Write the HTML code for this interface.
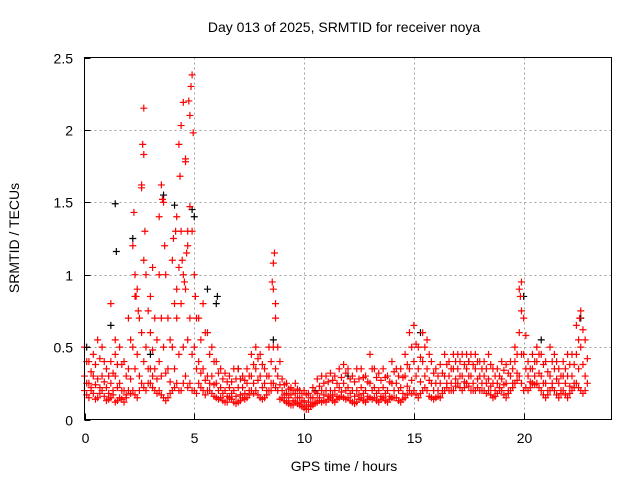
<!DOCTYPE html>
<html><head><meta charset="utf-8"><style>
body{margin:0;background:#fff;}
svg{display:block;font-family:"Liberation Sans",sans-serif;}
</style></head><body>
<svg id="chart" width="640" height="480" viewBox="0 0 640 480">
<text x="344" y="32" font-size="14" text-anchor="middle">Day 013 of 2025, SRMTID for receiver noya</text>
<g id="grid"></g>
<g id="marks"></g>
<rect x="84.5" y="57.5" width="527" height="362" fill="none" stroke="#000" stroke-width="1"/>
<g id="axes"></g>
<text x="344" y="471" font-size="14" text-anchor="middle">GPS time / hours</text>
<text transform="translate(19,238) rotate(-90)" font-size="14" text-anchor="middle">SRMTID / TECUs</text>
</svg>
<script>
const xTicks=[0,5,10,15,20];
const yTicks=[0,0.5,1,1.5,2,2.5];
const yTickLabels=["0","0.5","1","1.5","2","2.5"];
const redStart=0, redStep=0.2, red2Start=0.1;
const redLo=[.2,.15,.18,.15,.2,.13,.15,.12,.15,.12,.2,.2,.15,.25,.2,.25,.2,.2,.15,.15,.2,.25,.2,.3,.25,.2,.25,.2,.2,.18,.15,.15,.12,.15,.12,.12,.15,.15,.2,.2,.15,.15,.2,.25,.2,.15,.12,.1,.12,.1,.08,.07,.1,.12,.12,.12,.15,.12,.15,.15,.15,.12,.12,.15,.12,.15,.15,.12,.15,.12,.15,.15,.12,.15,.2,.2,.15,.2,.2,.15,.15,.15,.2,.2,.2,.25,.2,.25,.2,.2,.2,.2,.2,.15,.18,.2,.15,.2,.25,.3,.2,.2,.25,.25,.2,.15,.2,.2,.15,.2,.15,.2,.25,.2,.2];
const redMid=[.3,.25,.3,.28,.3,.22,.25,.3,.25,.2,.35,.5,.45,.6,.5,.35,.35,.4,.5,.35,.5,.7,.8,.9,.7,.5,.4,.35,.3,.3,.25,.22,.2,.22,.2,.22,.22,.25,.3,.35,.3,.25,.3,.5,.3,.2,.18,.17,.18,.15,.13,.12,.15,.18,.2,.2,.2,.2,.22,.25,.22,.2,.2,.22,.2,.25,.22,.2,.22,.2,.25,.25,.22,.3,.35,.4,.35,.4,.35,.25,.25,.25,.3,.3,.35,.35,.3,.35,.3,.35,.3,.3,.28,.25,.25,.28,.25,.3,.4,.6,.45,.3,.35,.4,.3,.25,.3,.35,.25,.3,.3,.3,.45,.5,.3];
const redHi=[.5,.4,.45,.55,.5,.35,.4,.45,.5,.4,.7,1.2,.9,1.6,1.0,.6,.7,1.0,1.5,.7,1.1,1.4,1.3,1.8,2.1,1.0,.7,.8,.6,.5,.4,.35,.32,.3,.35,.35,.3,.35,.45,.5,.45,.35,.5,.9,.5,.28,.25,.22,.25,.2,.2,.18,.22,.28,.3,.3,.32,.3,.35,.38,.35,.3,.35,.35,.3,.45,.35,.32,.35,.3,.4,.35,.35,.45,.6,.65,.5,.6,.55,.4,.35,.38,.45,.4,.45,.45,.45,.45,.45,.45,.4,.4,.45,.35,.35,.4,.38,.4,.5,.9,.7,.4,.45,.5,.45,.4,.5,.45,.35,.4,.45,.45,.65,.75,.55];
const red2Lo=[.17,.2,.14,.18,.16,.14,.17,.13,.14,.15,.18,.17,.2,.22,.25,.22,.18,.17,.13,.18,.22,.2,.25,.22,.2,.18,.22,.17,.2,.16,.14,.13,.12,.14,.11,.13,.14,.17,.18,.17,.14,.17,.2,.22,.14,.13,.11,.1,.11,.09,.07,.09,.11,.13,.13,.14,.13,.14,.16,.14,.13,.11,.14,.13,.14,.14,.13,.14,.13,.14,.15,.13,.14,.17,.18,.17,.18,.22,.16,.14,.16,.18,.22,.2,.23,.22,.22,.23,.2,.22,.2,.18,.17,.16,.2,.17,.18,.22,.27,.25,.22,.22,.24,.22,.17,.17,.22,.17,.18,.17,.18,.22,.22,.18];
const red2MidA=[.25,.22,.24,.22,.26,.18,.2,.22,.2,.17,.28,.35,.3,.4,.35,.3,.28,.3,.32,.26,.35,.45,.5,.55,.45,.35,.32,.27,.25,.24,.2,.18,.16,.18,.16,.17,.18,.2,.25,.27,.22,.2,.25,.35,.24,.17,.15,.13,.15,.12,.1,.1,.12,.15,.17,.16,.17,.16,.19,.2,.18,.16,.17,.18,.16,.2,.18,.16,.18,.16,.2,.2,.18,.23,.27,.3,.26,.3,.27,.2,.2,.2,.25,.25,.28,.3,.26,.3,.25,.28,.25,.25,.23,.2,.22,.24,.2,.25,.32,.45,.35,.26,.3,.32,.25,.2,.25,.28,.2,.25,.23,.25,.35,.38,.25];
const red2MidB=[.4,.33,.38,.42,.4,.3,.32,.38,.38,.3,.55,.85,.7,1.1,.75,.48,.55,.7,1.0,.55,.8,1.05,1.0,1.3,1.3,.7,.55,.6,.45,.4,.32,.28,.26,.26,.28,.28,.27,.3,.38,.42,.38,.3,.4,.7,.4,.24,.21,.2,.21,.18,.17,.15,.19,.23,.25,.26,.27,.25,.29,.32,.28,.26,.28,.29,.26,.35,.29,.27,.29,.26,.33,.3,.29,.38,.5,.52,.43,.5,.45,.32,.3,.32,.38,.35,.4,.4,.38,.4,.38,.4,.35,.35,.38,.3,.3,.34,.32,.35,.45,.75,.58,.35,.4,.45,.38,.33,.4,.4,.3,.35,.38,.38,.55,.62,.42];
const spikeT=[2.7,2.65,2.7,4.5,4.9,4.85,4.75,4.95,4.4,4.3,4.6,3.5,3.55,2.25,4.35,4.8,1.2,8.65,8.6,8.55,19.9,3.1,3.4,4.05,2.6,4.7,2.3,4.45,4.55,4.65,4.2,4.15,3.65,2.35,2.45,2.75,3.0,5.05,1.4,8.7,19.85,22.55];
const spikeV=[2.15,1.9,1.83,2.19,2.38,2.3,2.2,1.98,2.03,1.9,1.78,1.62,1.52,1.43,1.68,1.47,0.8,1.15,1.08,0.95,0.95,1.05,1.4,1.25,1.62,1.2,1.0,1.1,0.95,1.15,0.9,1.3,1.2,0.85,0.75,1.3,0.85,0.85,0.55,0.8,0.85,0.7];
const blackT=[1.4,1.45,2.2,4.1,5.0,4.9,3.6,5.6,6.0,6.05,1.2,8.6,20.0,20.8,22.6,3.0,7.0,12.0,17.5,0.1,15.3,10.5];
const blackV=[1.49,1.16,1.25,1.48,1.4,1.45,1.55,0.9,0.8,0.85,0.65,0.55,0.85,0.55,0.7,0.45,0.35,0.3,0.4,0.5,0.6,0.2];

const X0=84.5,X1=611.5,Y0=419.5,Y1=57.5;
const xs=t=>X0+(t/24)*(X1-X0);
const ys=v=>Y0-(v/2.5)*(Y0-Y1);
const NS="http://www.w3.org/2000/svg";
const grid=document.getElementById('grid'),axes=document.getElementById('axes'),marks=document.getElementById('marks');
function line(p,x1,y1,x2,y2,st,dash){const l=document.createElementNS(NS,'line');l.setAttribute('x1',x1);l.setAttribute('y1',y1);l.setAttribute('x2',x2);l.setAttribute('y2',y2);l.setAttribute('stroke',st);if(dash)l.setAttribute('stroke-dasharray',dash);p.appendChild(l);return l;}
xTicks.forEach(t=>{const x=Math.round(xs(t))+0.5;
 if(t>0){const g=line(grid,x,Y1,x,Y0,'#a0a0a0','2,3');}
 const k=line(axes,x,Y0,x,Y0-6,'#000');
 const tx=document.createElementNS(NS,'text');tx.setAttribute('x',x);tx.setAttribute('y',443);tx.setAttribute('font-size','14');tx.setAttribute('text-anchor','middle');tx.textContent=t;
 
 
 axes.appendChild(tx);});
yTicks.forEach((v,i)=>{const y=Math.round(ys(v))+0.5;
 if(v>0&&v<2.5){const g=line(grid,X0,y,X1,y,'#a0a0a0','2,3');}
 const k=line(axes,X0,y,X0+6,y,'#000');
 const tx=document.createElementNS(NS,'text');tx.setAttribute('x',73);tx.setAttribute('y',y+5);tx.setAttribute('font-size','14');tx.setAttribute('text-anchor','end');tx.textContent=yTickLabels[i];
 
 
 axes.appendChild(tx);});
function plus(t,v,c,name){const x=xs(t),y=ys(v);const p=document.createElementNS(NS,'path');
 p.setAttribute('d',`M${x-3.5} ${y}H${x+3.5}M${x} ${y-3.5}V${y+3.5}`);p.setAttribute('stroke',c);p.setAttribute('stroke-width','1.2');p.setAttribute('fill','none');
 
 
 marks.appendChild(p);}
blackT.forEach((t,i)=>plus(t,blackV[i],'#000','black-point'));
[redLo,redMid,redHi].forEach(arr=>arr.forEach((v,i)=>plus(redStart+i*redStep,v,'#f00','red-point')));
[red2Lo,red2MidA,red2MidB].forEach(arr=>arr.forEach((v,i)=>plus(red2Start+i*redStep,v,'#f00','red-point')));
spikeT.forEach((t,i)=>plus(t,spikeV[i],'#f00','red-point'));
</script>
</body></html>
